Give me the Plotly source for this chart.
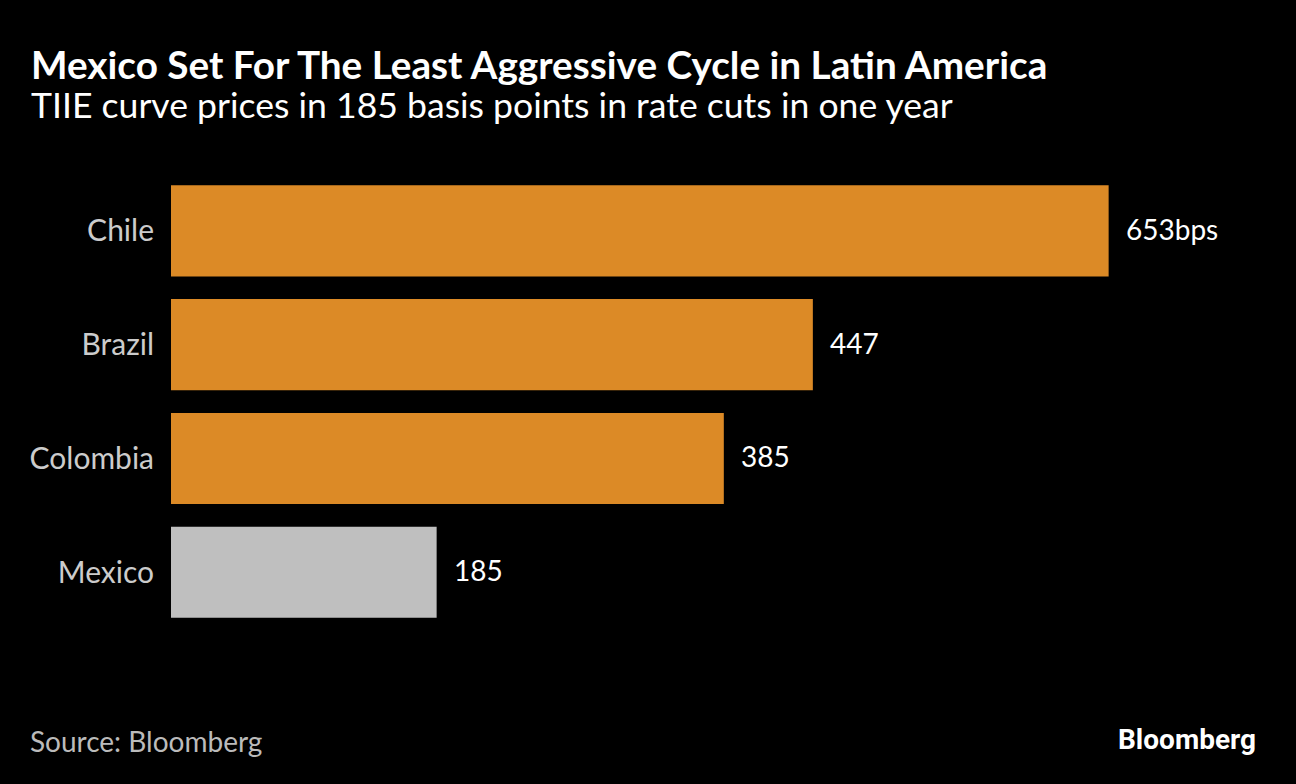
import plotly.graph_objects as go

countries = ["Chile", "Brazil", "Colombia", "Mexico"]
cuts_bps = [653, 447, 385, 185]
value_labels = ["653bps", "447", "385", "185"]
bar_colors = ["#DC8A26", "#DC8A26", "#DC8A26", "#BFBFBF"]

W, H = 1296, 784
L, T, B = 171, 173.5, 154.5
xmax = 780
px_per_unit = (1109 - 171) / 653
plot_w = xmax * px_per_unit
R = W - L - plot_w
plot_h = H - T - B

def px_x(px):
    return (px - L) / plot_w

def px_y(py):
    return (H - B - py) / plot_h

font = "Lato, 'Open Sans', sans-serif"

fig = go.Figure(go.Bar(
    x=cuts_bps, y=countries, orientation="h",
    marker=dict(color=bar_colors, line=dict(width=0)),
    hoverinfo="skip",
))

annotations = []
for c, v, lab in zip(countries, cuts_bps, value_labels):
    annotations.append(dict(x=v, y=c, xref="x", yref="y", text=lab, showarrow=False,
                            xanchor="left", yanchor="middle", xshift=15, yshift=2,
                            font=dict(family=font, size=28, color="#FFFFFF")))

annotations += [
    dict(x=px_x(29), y=px_y(63), xref="paper", yref="paper", xanchor="left", yanchor="middle",
         text="<b>Mexico Set For The Least Aggressive Cycle in Latin America</b>", showarrow=False,
         font=dict(family=font, size=38.7, color="#FFFFFF")),
    dict(x=px_x(29), y=px_y(104), xref="paper", yref="paper", xanchor="left", yanchor="middle",
         text="TIIE curve prices in 185 basis points in rate cuts in one year", showarrow=False,
         font=dict(family=font, size=35.6, color="#FFFFFF")),
    dict(x=px_x(28), y=px_y(742), xref="paper", yref="paper", xanchor="left", yanchor="middle",
         text="Source: Bloomberg", showarrow=False,
         font=dict(family=font, size=28, color="#BBBBBB")),
    dict(x=px_x(1258), y=px_y(740), xref="paper", yref="paper", xanchor="right", yanchor="middle",
         text="<b>Bloomberg</b>", showarrow=False,
         font=dict(family="Roboto, 'Open Sans', sans-serif", size=28, color="#FFFFFF")),
]

fig.update_layout(
    width=W, height=H,
    paper_bgcolor="#000000", plot_bgcolor="#000000",
    margin=dict(l=L, r=R, t=T, b=B),
    bargap=0.2,
    showlegend=False,
    annotations=annotations,
    xaxis=dict(range=[0, xmax], visible=False, showgrid=False, zeroline=False),
    yaxis=dict(categoryorder="array", categoryarray=countries[::-1], autorange=True,
               showgrid=False, zeroline=False, showline=False,
               ticks="outside", ticklen=10, tickcolor="rgba(0,0,0,0)",
               tickfont=dict(family=font, size=30, color="#CCCCCC")),
)

fig.write_html(
    "out.html",
    config={"displayModeBar": False},
    post_script="document.body.style.margin='0';document.body.style.background='#000';"
                "document.documentElement.style.background='#000';document.body.style.overflow='hidden';",
)
